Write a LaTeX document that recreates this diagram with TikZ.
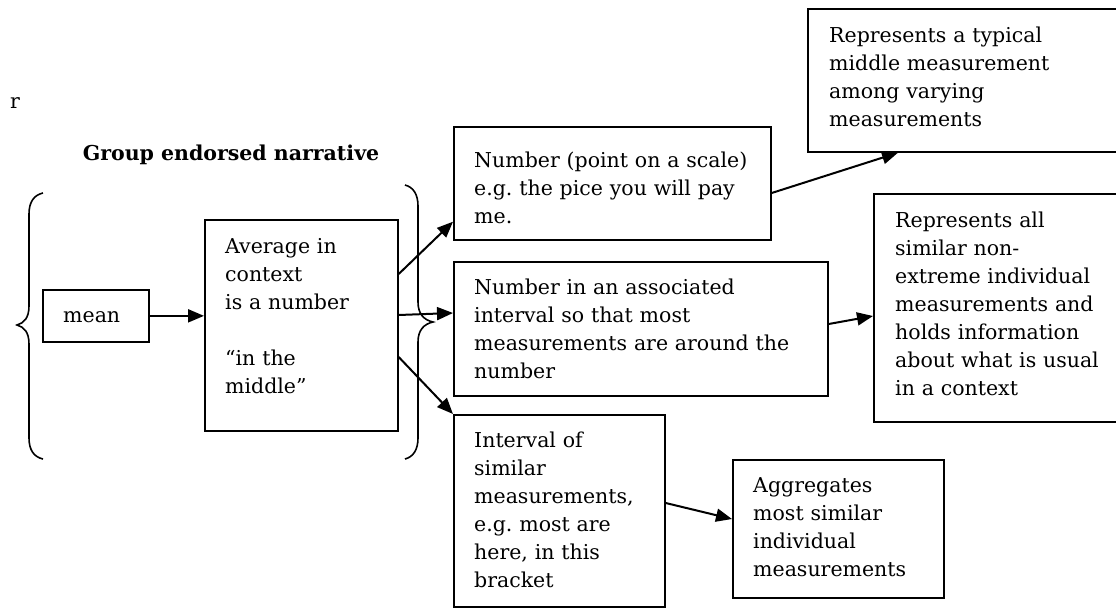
\documentclass[tikz,border=0pt]{standalone}
\usepackage{fontspec}
\setmainfont{DejaVu Serif}
\usetikzlibrary{arrows.meta}
\frenchspacing
\begin{document}
\begin{tikzpicture}[x=1pt,y=-1pt,
  box/.style={draw, line width=1.7pt, inner sep=0pt, anchor=north west, fill=none},
  txt/.style={anchor=base west, inner sep=0pt, align=left, text width=#1,
              font=\fontsize{20.5}{28}\selectfont},
  txt/.default=330pt,
  arr/.style={line width=2pt, -{Triangle[length=16pt,width=13pt]}},
  brace/.style={line width=1.6pt}]
\useasboundingbox (0,0) rectangle (1116,608);
\clip (0,0) rectangle (1116,608);

% stray letter and heading
\node[txt] (r) at (10,108) {r};
\node[anchor=base, inner sep=0pt, font=\fontsize{20.5}{28}\selectfont\bfseries] (title) at (231,160) {Group endorsed narrative};

% boxes
\node[box, minimum width=106pt, minimum height=52pt]  (mean) at (42,289) {};
\node[box, minimum width=193pt, minimum height=211pt] (avg)  at (204,219) {};
\node[box, minimum width=317pt, minimum height=113pt] (n1)   at (453,126) {};
\node[box, minimum width=374pt, minimum height=134pt] (n2)   at (453,261) {};
\node[box, minimum width=211pt, minimum height=192pt] (iv)   at (453,414) {};
\node[box, minimum width=330pt, minimum height=143pt] (rep1) at (807,8) {};
\node[box, minimum width=260pt, minimum height=228pt] (rep2) at (873,193) {};
\node[box, minimum width=211pt, minimum height=138pt] (agg)  at (732,459) {};

% box texts
\node[txt] (tmean) at (63,322) {mean};
\node[txt] (tavg) at (225,253) {Average in\\context\\is a number\\[28pt]“in the\\middle”};
\node[txt] (tn1) at (474,167) {Number (point on a scale)\\e.g. the pice you will pay\\me.};
\node[txt] (tn2) at (474,294) {Number in an associated\\interval so that most\\measurements are around the\\number};
\node[txt] (tiv) at (474,447) {Interval of\\similar\\measurements,\\e.g. most are\\here, in this\\bracket};
\node[txt] (trep1) at (829,42) {Represents a typical\\middle measurement\\among varying\\measurements};
\node[txt] (trep2) at (895,227) {Represents all\\similar non-\\extreme individual\\measurements and\\holds information\\about what is usual\\in a context};
\node[txt] (tagg) at (753,492) {Aggregates\\most similar\\individual\\measurements};

% curly brackets
\draw[brace] (43,193) .. controls (34,195) and (29,202) .. (29,214) -- (29,306)
  .. controls (29,318) and (24,323) .. (17,325)
  .. controls (24,327) and (29,332) .. (29,344) -- (29,438)
  .. controls (29,450) and (34,457) .. (43,459);
\draw[brace] (405,185) .. controls (413,187) and (418,194) .. (418,206) -- (418,302)
  .. controls (418,314) and (424,320) .. (433,322)
  .. controls (424,324) and (418,330) .. (418,342) -- (418,438)
  .. controls (418,450) and (413,457) .. (405,459);

% connectors
\draw[arr] (mean.east) -- (avg.west |- mean.east);
\draw[arr] ([yshift=-55pt]avg.north east) -- ([yshift=19pt]n1.south west);
\draw[arr] ([yshift=-96pt]avg.north east) -- ([yshift=-52pt]n2.north west);
\draw[arr] ([yshift=-138pt]avg.north east) -- (iv.north west);
\draw[arr] ([yshift=-67pt]n1.north east) -- ([xshift=91pt]rep1.south west);
\draw[arr] ([yshift=-63pt]n2.north east) -- ([yshift=-123pt]rep2.north west);
\draw[arr] ([yshift=-89pt]iv.north east) -- ([yshift=-60pt]agg.north west);
\end{tikzpicture}
\end{document}
